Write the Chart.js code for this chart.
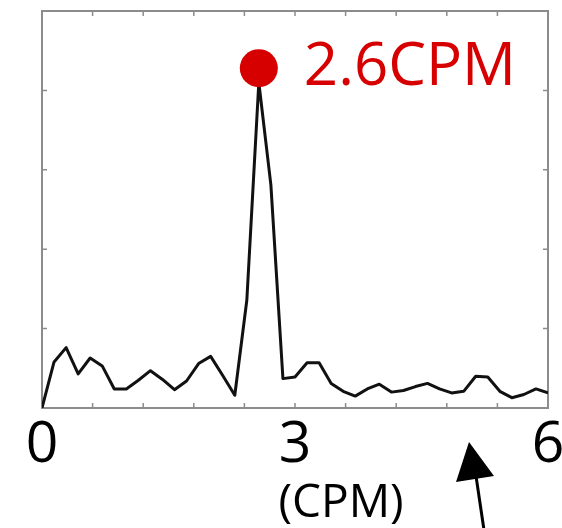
<!DOCTYPE html>
<html>
<head>
<meta charset="utf-8">
<script src="https://cdn.jsdelivr.net/npm/chart.js@4.4.1/dist/chart.umd.min.js"></script>
<style>
  html, body { margin: 0; padding: 0; background: #fff; }
  #wrap { width: 562px; height: 528px; }
</style>
</head>
<body>
<div id="wrap"><canvas id="chart" width="562" height="528"></canvas></div>
<script>
// frequency bins (CPM), one every 1/7 CPM
var freqs = [0, 0.143, 0.286, 0.429, 0.571, 0.714, 0.857, 1, 1.143, 1.286, 1.429,
    1.571, 1.714, 1.857, 2, 2.143, 2.286, 2.429, 2.571, 2.714, 2.857, 3,
    3.143, 3.286, 3.429, 3.571, 3.714, 3.857, 4, 4.143, 4.286, 4.429, 4.571,
    4.714, 4.857, 5, 5.143, 5.286, 5.429, 5.571, 5.714, 5.857, 6];
var power = [0, 0.58, 0.76, 0.43, 0.63, 0.53, 0.24, 0.24, 0.35, 0.47, 0.36,
    0.23, 0.34, 0.56, 0.65, 0.41, 0.16, 1.36, 4.1, 2.81, 0.37, 0.39,
    0.57, 0.57, 0.31, 0.21, 0.15, 0.24, 0.30, 0.20, 0.22, 0.27, 0.31,
    0.24, 0.19, 0.21, 0.40, 0.39, 0.21, 0.13, 0.17, 0.24, 0.19];
var peakFreq = [2.571];
var peakMark = [4.28];
var peakLabel = '2.6CPM';
var xTickLabels = ['0', '3', '6'];
var xTitle = '(CPM)';

var FONT = "'Open Sans', 'Noto Sans', sans-serif";
var RED = 'rgb(215, 0, 0)';

var points = freqs.map(function (f, i) { return { x: f, y: power[i] }; });
var peak = peakFreq.map(function (f, i) { return { x: f, y: peakMark[i] }; });

var frame = {
    id: 'frame',
    beforeDatasetsDraw: function (chart) {
        var ctx = chart.ctx, a = chart.chartArea;
        var xs = chart.scales.x, ys = chart.scales.y;
        ctx.save();
        ctx.strokeStyle = '#8c8c8c';
        ctx.lineWidth = 2;
        ctx.strokeRect(a.left, a.top, a.right - a.left, a.bottom - a.top);
        ctx.lineWidth = 1.5;
        ctx.beginPath();
        xs.ticks.forEach(function (t) {
            var px = xs.getPixelForValue(t.value);
            ctx.moveTo(px, a.bottom); ctx.lineTo(px, a.bottom - 5);
            ctx.moveTo(px, a.top); ctx.lineTo(px, a.top + 5);
        });
        ys.ticks.forEach(function (t) {
            var py = ys.getPixelForValue(t.value);
            ctx.moveTo(a.left, py); ctx.lineTo(a.left + 5, py);
            ctx.moveTo(a.right, py); ctx.lineTo(a.right - 5, py);
        });
        ctx.stroke();
        ctx.restore();
    },
    afterDraw: function (chart) {
        var ctx = chart.ctx;
        var xs = chart.scales.x;
        ctx.save();
        // peak label
        ctx.fillStyle = RED;
        ctx.font = '500 60px ' + FONT;
        ctx.textBaseline = 'alphabetic';
        ctx.textAlign = 'left';
        ctx.fillText(peakLabel, xs.getPixelForValue(peakFreq[0]) + 45, 85);
        // axis unit
        ctx.fillStyle = '#000';
        ctx.font = '500 46px ' + FONT;
        ctx.textAlign = 'center';
        ctx.fillText(xTitle, 341, 517);
        // arrow
        ctx.strokeStyle = '#000';
        ctx.lineWidth = 3;
        ctx.beginPath();
        ctx.moveTo(476, 476);
        ctx.lineTo(484, 530);
        ctx.stroke();
        ctx.beginPath();
        ctx.moveTo(469, 442);
        ctx.lineTo(456, 482);
        ctx.lineTo(494, 476);
        ctx.closePath();
        ctx.fill();
        ctx.restore();
    }
};

new Chart(document.getElementById('chart'), {
    type: 'scatter',
    data: {
        datasets: [{
            data: peak,
            showLine: false,
            pointRadius: 19,
            pointHoverRadius: 19,
            backgroundColor: RED,
            borderWidth: 0,
            order: 0
        }, {
            data: points,
            showLine: true,
            borderColor: '#111',
            borderWidth: 3,
            pointRadius: 0,
            borderJoinStyle: 'round',
            tension: 0,
            order: 1
        }]
    },
    options: {
        responsive: false,
        animation: false,
        layout: { autoPadding: false, padding: { top: 11, right: 14, left: 0, bottom: 0 } },
        plugins: { legend: { display: false }, tooltip: { enabled: false } },
        scales: {
            x: {
                type: 'linear',
                min: 0,
                max: 6,
                grid: { display: false },
                border: { display: false },
                ticks: {
                    stepSize: 0.6,
                    autoSkip: false,
                    maxRotation: 0,
                    padding: -4,
                    color: '#000',
                    font: { family: FONT, size: 57, weight: '500' },
                    callback: function (v) {
                        var idx = [0, 3, 6].findIndex(function (c) { return Math.abs(v - c) < 1e-6; });
                        return idx >= 0 ? xTickLabels[idx] : '';
                    }
                },
                afterFit: function (scale) {
                    scale.height = 120;
                    scale.paddingLeft = 0;
                    scale.paddingRight = 0;
                }
            },
            y: {
                min: 0,
                max: 5,
                grid: { display: false },
                border: { display: false },
                ticks: { stepSize: 1, display: false },
                afterFit: function (scale) {
                    scale.width = 42;
                    scale.paddingTop = 0;
                    scale.paddingBottom = 0;
                }
            }
        }
    },
    plugins: [frame]
});
</script>
</body>
</html>
